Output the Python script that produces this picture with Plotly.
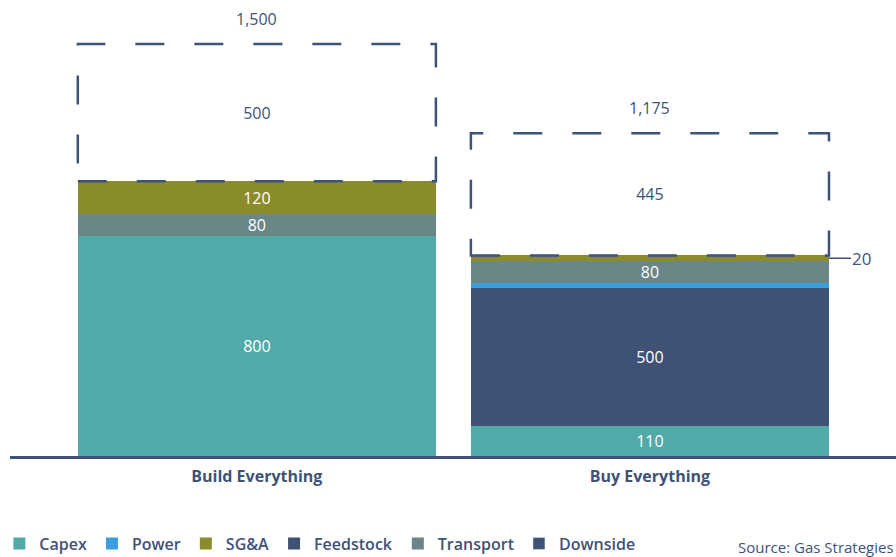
import plotly.graph_objects as go

categories = ["Build Everything", "Buy Everything"]
capex = [800, 110]
feedstock = [0, 500]
power = [0, 20]
transport = [80, 80]
sga = [120, 20]
downside = [500, 445]

NAVY = "#3f5277"
colors = {
    "Capex": "#52aaa8",
    "Power": "#3a9fdc",
    "SG&A": "#8a8b2b",
    "Feedstock": "#3f5275",
    "Transport": "#6a8686",
    "Downside": "#3f5275",
}
FONT = "Open Sans"
BARGAP = 0.089
BARW = 1 - BARGAP

# stacking order bottom -> top, legend rank separately
stack = [
    ("Capex", capex, 1),
    ("Feedstock", feedstock, 4),
    ("Power", power, 2),
    ("Transport", transport, 5),
    ("SG&A", sga, 3),
]

fig = go.Figure()
for name, vals, rank in stack:
    fig.add_trace(go.Bar(
        x=categories, y=vals, name=name, legendrank=rank,
        marker=dict(color=colors[name], line=dict(width=0)),
        text=[str(v) if v >= 50 else "" for v in vals],
        textposition="inside", insidetextanchor="middle",
        textangle=0, constraintext="none",
        textfont=dict(color="white", size=16, family=FONT),
        hoverinfo="skip",
    ))

# Downside: transparent bar with dashed outline (shape)
fig.add_trace(go.Bar(
    x=categories, y=downside, name="Downside", showlegend=False,
    marker=dict(color="rgba(0,0,0,0)", line=dict(width=0)),
    text=[str(v) for v in downside], textposition="inside",
    insidetextanchor="middle", textangle=0, constraintext="none",
    textfont=dict(color=NAVY, size=16, family=FONT),
    hoverinfo="skip",
))
# legend entry for Downside
fig.add_trace(go.Bar(
    x=[categories[0]], y=[None], name="Downside", legendrank=6,
    marker=dict(color=colors["Downside"]), hoverinfo="skip",
))

bases = [capex[i] + feedstock[i] + power[i] + transport[i] + sga[i] for i in range(2)]
totals = [bases[i] + downside[i] for i in range(2)]

for i in range(2):
    fig.add_shape(
        type="rect", xref="x", yref="y",
        x0=i - BARW / 2, x1=i + BARW / 2, y0=bases[i], y1=totals[i],
        line=dict(color=NAVY, width=2.5, dash="29px,30px"),
        fillcolor="rgba(0,0,0,0)",
    )
    fig.add_annotation(
        x=i, y=totals[i], text=f"{totals[i]:,}", showarrow=False,
        yanchor="bottom", yshift=12,
        font=dict(color=NAVY, size=16, family=FONT),
    )

# outside label for small SG&A on Buy
sga_mid = capex[1] + feedstock[1] + power[1] + transport[1] + sga[1] / 2
fig.add_annotation(
    x=1 + BARW / 2, y=sga_mid, text=str(sga[1]),
    showarrow=True, arrowhead=0, arrowwidth=1.5, arrowcolor=NAVY,
    ax=33, ay=0, standoff=0,
    font=dict(color=NAVY, size=17, family=FONT),
)

fig.add_annotation(
    xref="paper", yref="paper", x=1, y=-0.2, xanchor="right", yanchor="middle",
    text="Source: Gas Strategies", showarrow=False,
    font=dict(color=NAVY, size=15, family=FONT),
)

fig.update_layout(
    width=896, height=557,
    margin=dict(l=10, r=0, t=0, b=101, autoexpand=False),
    barmode="stack", bargap=BARGAP,
    plot_bgcolor="white", paper_bgcolor="white",
    font=dict(family=FONT, color=NAVY),
    showlegend=True,
    legend=dict(
        orientation="h", x=-0.012, xanchor="left", y=-0.192, yanchor="middle",
        font=dict(size=16, color=NAVY, family=FONT, weight=600),
        itemwidth=30, traceorder="normal",
    ),
    xaxis=dict(
        range=[-0.628, 1.626], showgrid=False, zeroline=False,
        showline=True, linecolor=NAVY, linewidth=3, ticks="",
        ticklabelstandoff=4,
        tickfont=dict(size=16, color=NAVY, family=FONT, weight="bold"),
    ),
    yaxis=dict(range=[0, 1660], visible=False, showgrid=False),
)

fig.write_html("out.html")
